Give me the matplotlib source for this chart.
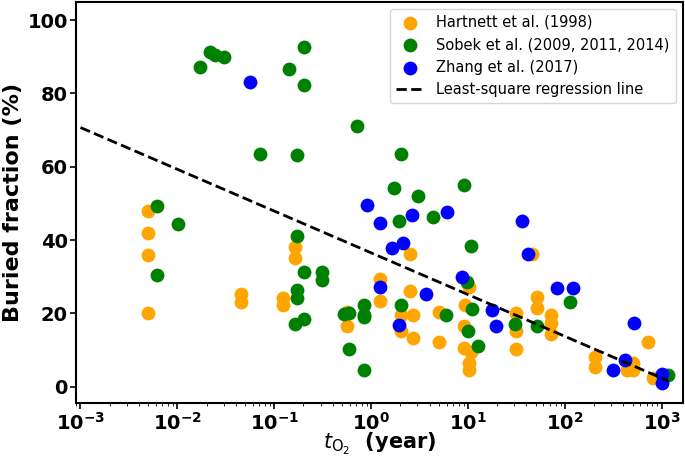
import numpy as np
import matplotlib
matplotlib.use('Agg')
import matplotlib.pyplot as plt
from matplotlib.ticker import FuncFormatter, LogLocator, NullFormatter

# Hartnett et al. (1998)
hartnett_t = [0.005, 0.005, 0.005, 0.005, 0.045, 0.045, 0.123, 0.123, 0.162, 0.162,
              0.561, 0.56, 1.22, 1.22, 2.04, 2.04, 2.54, 2.54, 2.73, 2.73, 5.06, 5.06,
              9.1, 9.1, 9.4, 10.2, 10.3, 10.3, 10.7, 31.3, 31.3, 31.3, 45.3, 51.1, 51.1,
              71, 71, 71, 204, 204, 439, 499, 499, 722, 813]
hartnett_bf = [48, 42, 36, 20, 25.3, 23.1, 24.3, 22.3, 38.2, 35.2,
               16.4, 20.3, 29.3, 23.3, 19.4, 15.1, 36.2, 26.2, 19.4, 13.3, 20.3, 12.3,
               16.4, 10.5, 22.3, 27.1, 6.4, 4.5, 9.4, 20.2, 15.3, 10.3, 36.2, 24.4, 21.4,
               19.4, 17.3, 14.4, 8.2, 5.3, 4.4, 4.4, 6.4, 12.3, 2.3]

# Sobek et al. (2009, 2011, 2014)
sobek_t = [0.0061, 0.0061, 0.0102, 0.0173, 0.0219, 0.0247, 0.0306, 0.0706, 0.1416, 0.171,
           0.171, 0.171, 0.171, 0.162, 0.204, 0.204, 0.204, 0.204, 0.31, 0.31,
           0.519, 0.593, 0.593, 0.706, 0.834, 0.834, 0.85, 0.84, 1.73, 2.02,
           1.95, 2.04, 3.07, 4.39, 5.93, 9.0, 9.7, 9.9, 10.6, 11.1,
           12.8, 30.5, 51.1, 112.7, 1161]
sobek_bf = [49.4, 30.5, 44.3, 87.3, 91.4, 90.6, 90.0, 63.5, 86.7, 63.1,
            41.2, 26.4, 24.2, 17.1, 92.6, 82.3, 31.4, 18.4, 31.2, 29.1,
            19.8, 20.2, 10.3, 71.2, 22.3, 19.6, 19.1, 4.4, 54.3, 63.5,
            45.2, 22.3, 52.0, 46.2, 19.4, 55.0, 28.5, 15.3, 38.4, 21.2,
            11.2, 17.0, 16.4, 23.2, 3.2]

# Zhang et al. (2017)
zhang_t = [0.0566, 0.9, 1.22, 1.22, 1.63, 1.95, 2.12, 2.63, 3.66, 6.13, 8.6,
           17.5, 19.3, 35.7, 41.9, 82, 122, 310, 416, 514, 993, 1000]
zhang_bf = [83.1, 49.6, 44.6, 27.3, 37.7, 16.9, 39.3, 46.8, 25.2, 47.7, 29.8,
            20.9, 16.4, 45.2, 36.2, 26.8, 26.8, 4.5, 7.3, 17.3, 3.5, 1.1]

# regression line: bf = a + b*log10(t)
reg_a = 36.5
reg_b = -11.4
reg_range = [1e-3, 1161]

fig = plt.figure(figsize=(6.85, 4.57), dpi=100)
ax = fig.add_axes([0.111, 0.118, 0.886, 0.878])

ax.scatter(hartnett_t, hartnett_bf, s=80, color='orange', label='Hartnett et al. (1998)', zorder=2)
ax.scatter(sobek_t, sobek_bf, s=80, color='green', label='Sobek et al. (2009, 2011, 2014)', zorder=3)
ax.scatter(zhang_t, zhang_bf, s=80, color='blue', label='Zhang et al. (2017)', zorder=4)

t_line = np.logspace(np.log10(reg_range[0]), np.log10(reg_range[1]), 100)
ax.plot(t_line, reg_a + reg_b * np.log10(t_line), 'k--', lw=2,
        label='Least-square regression line', zorder=5)

ax.set_xscale('log')
ax.set_xlim(9e-4, 1.65e3)
ax.set_ylim(-4.5, 105)
ax.set_yticks([0, 20, 40, 60, 80, 100])
ax.xaxis.set_major_locator(LogLocator(base=10, numticks=10))
ax.xaxis.set_major_formatter(FuncFormatter(lambda v, _: r'$\mathbf{10^{%d}}$' % round(np.log10(v))))
ax.xaxis.set_minor_formatter(NullFormatter())

for lab in ax.get_yticklabels():
    lab.set_fontweight('bold')
ax.tick_params(axis='both', which='major', labelsize=14, width=1.2, length=4, pad=2)
ax.tick_params(axis='x', which='minor', length=2.5)
for sp in ax.spines.values():
    sp.set_linewidth(1.5)

ax.set_ylabel('Buried fraction (%)', fontsize=16, fontweight='bold', labelpad=3)
ax.set_xlabel(r'$t_{\mathrm{O_2}}$  (year)', fontsize=15, fontweight='bold')
ax.xaxis.set_label_coords(0.5, -0.07)

ax.legend(loc='upper right', fontsize=10.5)

fig.savefig('out.png', dpi=100)
